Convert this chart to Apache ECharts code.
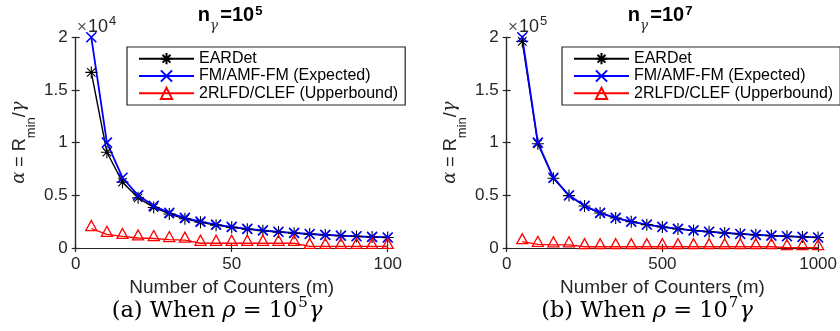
<!DOCTYPE html>
<html>
<head>
<meta charset="utf-8">
<script src="https://cdn.jsdelivr.net/npm/echarts@6/dist/echarts.min.js"></script>
<style>
  html, body { margin: 0; padding: 0; background: #fff; }
  #chart { width: 840px; height: 331px; }
</style>
</head>
<body>
<div id="chart"></div>
<script>
// Number of counters m for each panel
const countersA = [5, 10, 15, 20, 25, 30, 35, 40, 45, 50, 55, 60, 65, 70, 75, 80, 85, 90, 95, 100];
const countersB = [50, 100, 150, 200, 250, 300, 350, 400, 450, 500, 550, 600, 650, 700, 750, 800, 850, 900, 950, 1000];

// alpha = R_min / gamma, panel (a): rho = 1e5 gamma
const eardetA = [16670, 9090, 6250, 4760, 3850, 3230, 2780, 2440, 2170, 1960, 1790, 1640, 1520, 1410, 1320, 1230, 1160, 1100, 1040, 990];
const fmA     = [20000, 10000, 6670, 5000, 4000, 3330, 2860, 2500, 2220, 2000, 1820, 1670, 1540, 1430, 1330, 1250, 1180, 1110, 1050, 1000];
const clefA   = [1850, 1300, 1100, 950, 900, 800, 750, 450, 450, 450, 450, 450, 450, 450, 150, 150, 150, 150, 150, 150];

// panel (b): rho = 1e7 gamma
const eardetB = [196100, 99000, 66200, 49750, 39840, 33220, 28490, 24940, 22170, 19960, 18150, 16640, 15360, 14270, 13320, 12490, 11760, 11100, 10520, 9990];
const fmB     = [200000, 100000, 66670, 50000, 40000, 33330, 28570, 25000, 22220, 20000, 18180, 16670, 15380, 14290, 13330, 12500, 11760, 11110, 10530, 10000];
const clefB   = [6000, 3500, 3000, 3000, 1200, 1200, 1200, 1200, 1200, 1200, 1200, 1200, 1200, 1200, 1200, 1200, 1200, 400, 400, 400];

// Axis ticks
const xTicksA = [0, 50, 100];
const xTicksB = [0, 500, 1000];
const yTickLabels = ['0', '0.5', '1', '1.5', '2'];

const seriesNames = ['EARDet', 'FM/AMF-FM (Expected)', '2RLFD/CLEF (Upperbound)'];

const SANS = '"Liberation Sans", Arial, Helvetica, sans-serif';
const SERIF = '"DejaVu Serif", serif';
const AXIS_COLOR = '#262626';

const STAR = 'path://M0,5L10,5M5,0L5,10M1.46,1.46L8.54,8.54M8.54,1.46L1.46,8.54';
const CROSS = 'path://M0,0L10,10M10,0L0,10';

const chart = echarts.init(document.getElementById('chart'), null, { renderer: 'canvas' });

const grids = [
  { left: 75.7, top: 37.3, width: 312, height: 210.7 },
  { left: 506.7, top: 37.3, width: 311.6, height: 210.7 }
];

function pairs(xs, ys) { return xs.map((x, i) => [x, ys[i]]); }

function xAxes(gridIndex, ticks) {
  const base = {
    type: 'value', gridIndex: gridIndex,
    min: ticks[0], max: ticks[ticks.length - 1], interval: ticks[1] - ticks[0],
    axisLine: { show: true, lineStyle: { color: AXIS_COLOR, width: 1.2 } },
    axisTick: { show: true, inside: true, length: 4, lineStyle: { color: AXIS_COLOR, width: 1.2 } },
    splitLine: { show: false }
  };
  return [
    Object.assign({}, base, {
      position: 'bottom',
      name: 'Number of Counters (m)', nameLocation: 'middle', nameGap: 25,
      nameTextStyle: { fontFamily: SANS, fontSize: 19, color: AXIS_COLOR },
      axisLabel: {
        fontFamily: SANS, fontSize: 17, color: AXIS_COLOR, margin: 8,
        formatter: v => String(v)
      }
    }),
    Object.assign({}, base, { position: 'top', axisLabel: { show: false } })
  ];
}

function yAxes(gridIndex, max) {
  const base = {
    type: 'value', gridIndex: gridIndex,
    min: 0, max: max, interval: max / 4,
    axisLine: { show: true, lineStyle: { color: AXIS_COLOR, width: 1.2 } },
    axisTick: { show: true, inside: true, length: 4, lineStyle: { color: AXIS_COLOR, width: 1.2 } },
    splitLine: { show: false }
  };
  return [
    Object.assign({}, base, {
      position: 'left',
      // rich tokens share one box height; padding sets each token's vertical place
      name: '{a|α}{m| = R}{s|min}{m|/}{a|γ}',
      nameLocation: 'middle', nameRotate: 90, nameGap: 38,
      nameTextStyle: {
        color: AXIS_COLOR,
        rich: {
          m: { fontFamily: SANS, fontSize: 18, padding: [1, 0, 9, 0], color: AXIS_COLOR },
          a: { fontFamily: SERIF, fontStyle: 'italic', fontSize: 18, padding: [1, 0, 9, 0], color: AXIS_COLOR },
          s: { fontFamily: SANS, fontSize: 13, padding: [15, 0, 0, 0], color: AXIS_COLOR }
        }
      },
      axisLabel: {
        fontFamily: SANS, fontSize: 17, color: AXIS_COLOR, margin: 8,
        formatter: v => yTickLabels[Math.round(v / (max / 4))]
      }
    }),
    Object.assign({}, base, { position: 'right', axisLabel: { show: false } })
  ];
}

function panelSeries(p, xs, eardet, fm, clef) {
  const common = {
    type: 'line', xAxisIndex: p * 2, yAxisIndex: p * 2,
    showAllSymbol: true, clip: false, silent: true,
    emphasis: { disabled: true }
  };
  return [
    Object.assign({}, common, {
      name: seriesNames[0], data: pairs(xs, eardet),
      symbol: STAR, symbolSize: 12,
      lineStyle: { color: '#000000', width: 1.4 },
      itemStyle: { color: 'rgba(0,0,0,0)', borderColor: '#000000', borderWidth: 1.1 }
    }),
    Object.assign({}, common, {
      name: seriesNames[1], data: pairs(xs, fm),
      symbol: CROSS, symbolSize: 10,
      lineStyle: { color: '#0000ff', width: 1.8 },
      itemStyle: { color: 'rgba(0,0,0,0)', borderColor: '#0000ff', borderWidth: 1.6 }
    }),
    Object.assign({}, common, {
      name: seriesNames[2], data: pairs(xs, clef),
      symbol: 'triangle', symbolSize: [11, 10], symbolOffset: [0, -3],
      lineStyle: { color: '#ff0000', width: 1.3 },
      itemStyle: { color: 'rgba(0,0,0,0)', borderColor: '#ff0000', borderWidth: 1.3 }
    })
  ];
}

function legendAt(left) {
  return {
    orient: 'vertical', left: left, top: 47,
    itemWidth: 55, itemHeight: 14, itemGap: 1.3,
    padding: [3.7, 7, 3.7, 11],
    borderColor: AXIS_COLOR, borderWidth: 1.2, backgroundColor: '#ffffff',
    selectedMode: false,
    textStyle: { fontFamily: SANS, fontSize: 16, lineHeight: 14, color: '#000000' },
    data: seriesNames
  };
}

// Titles, exponent markers and captions
function textStyle(text, align, vAlign, rich) {
  return {
    text: text,
    align: align, textAlign: align,
    verticalAlign: vAlign, textVerticalAlign: vAlign,
    rich: rich
  };
}

function titleText(cx, exp) {
  return {
    type: 'text', x: cx, y: 0, silent: true,
    style: textStyle('{b|n}{g|γ}{b|=10}{p|' + exp + '}', 'center', 'top', {
      b: { fontFamily: SANS, fontWeight: 'bold', fontSize: 20, padding: [5.5, 0, 14.5, 0], fill: '#000' },
      g: { fontFamily: SERIF, fontStyle: 'italic', fontSize: 14, padding: [19, 2, 7, 0], fill: '#333' },
      p: { fontFamily: SANS, fontWeight: 'bold', fontSize: 13, padding: [4.5, 0, 22.5, 1], fill: '#000' }
    })
  };
}

function exponentText(x, exp) {
  return {
    type: 'text', x: x, y: 15, silent: true,
    style: textStyle('{m|×}{d|10}{s|' + exp + '}', 'left', 'top', {
      m: { fontFamily: SANS, fontSize: 17, padding: [4, 1, 5, 0], fill: '#555' },
      d: { fontFamily: SANS, fontSize: 18, padding: [3.5, 0, 4.5, 0], fill: AXIS_COLOR },
      s: { fontFamily: SANS, fontSize: 13, padding: [0, 0, 13, 1], fill: AXIS_COLOR }
    })
  };
}

function captionText(cx, label, exp) {
  return {
    type: 'text', x: cx, y: 311, silent: true,
    style: textStyle('{r|(' + label + ') When }{i|ρ}{r| = 10}{s|' + exp + '}{i|γ}', 'center', 'middle', {
      r: { fontFamily: SERIF, fontSize: 22.5, padding: [4, 0, 4, 0], fill: '#000' },
      i: { fontFamily: SERIF, fontStyle: 'italic', fontSize: 22.5, padding: [4, 0, 4, 0], fill: '#000' },
      s: { fontFamily: SERIF, fontSize: 15, padding: [0, 1, 15.5, 1], fill: '#000' }
    })
  };
}

const option = {
  animation: false,
  backgroundColor: '#ffffff',
  grid: grids,
  xAxis: xAxes(0, xTicksA).concat(xAxes(1, xTicksB)),
  yAxis: yAxes(0, 20000).concat(yAxes(1, 200000)),
  legend: [legendAt(127), legendAt(562)],
  series: panelSeries(0, countersA, eardetA, fmA, clefA)
    .concat(panelSeries(1, countersB, eardetB, fmB, clefB)),
  graphic: [
    titleText(230, '5'),
    titleText(660, '7'),
    exponentText(77, '4'),
    exponentText(508, '5'),
    captionText(217, 'a', '5'),
    captionText(647, 'b', '7')
  ]
};

chart.setOption(option);
</script>
</body>
</html>
